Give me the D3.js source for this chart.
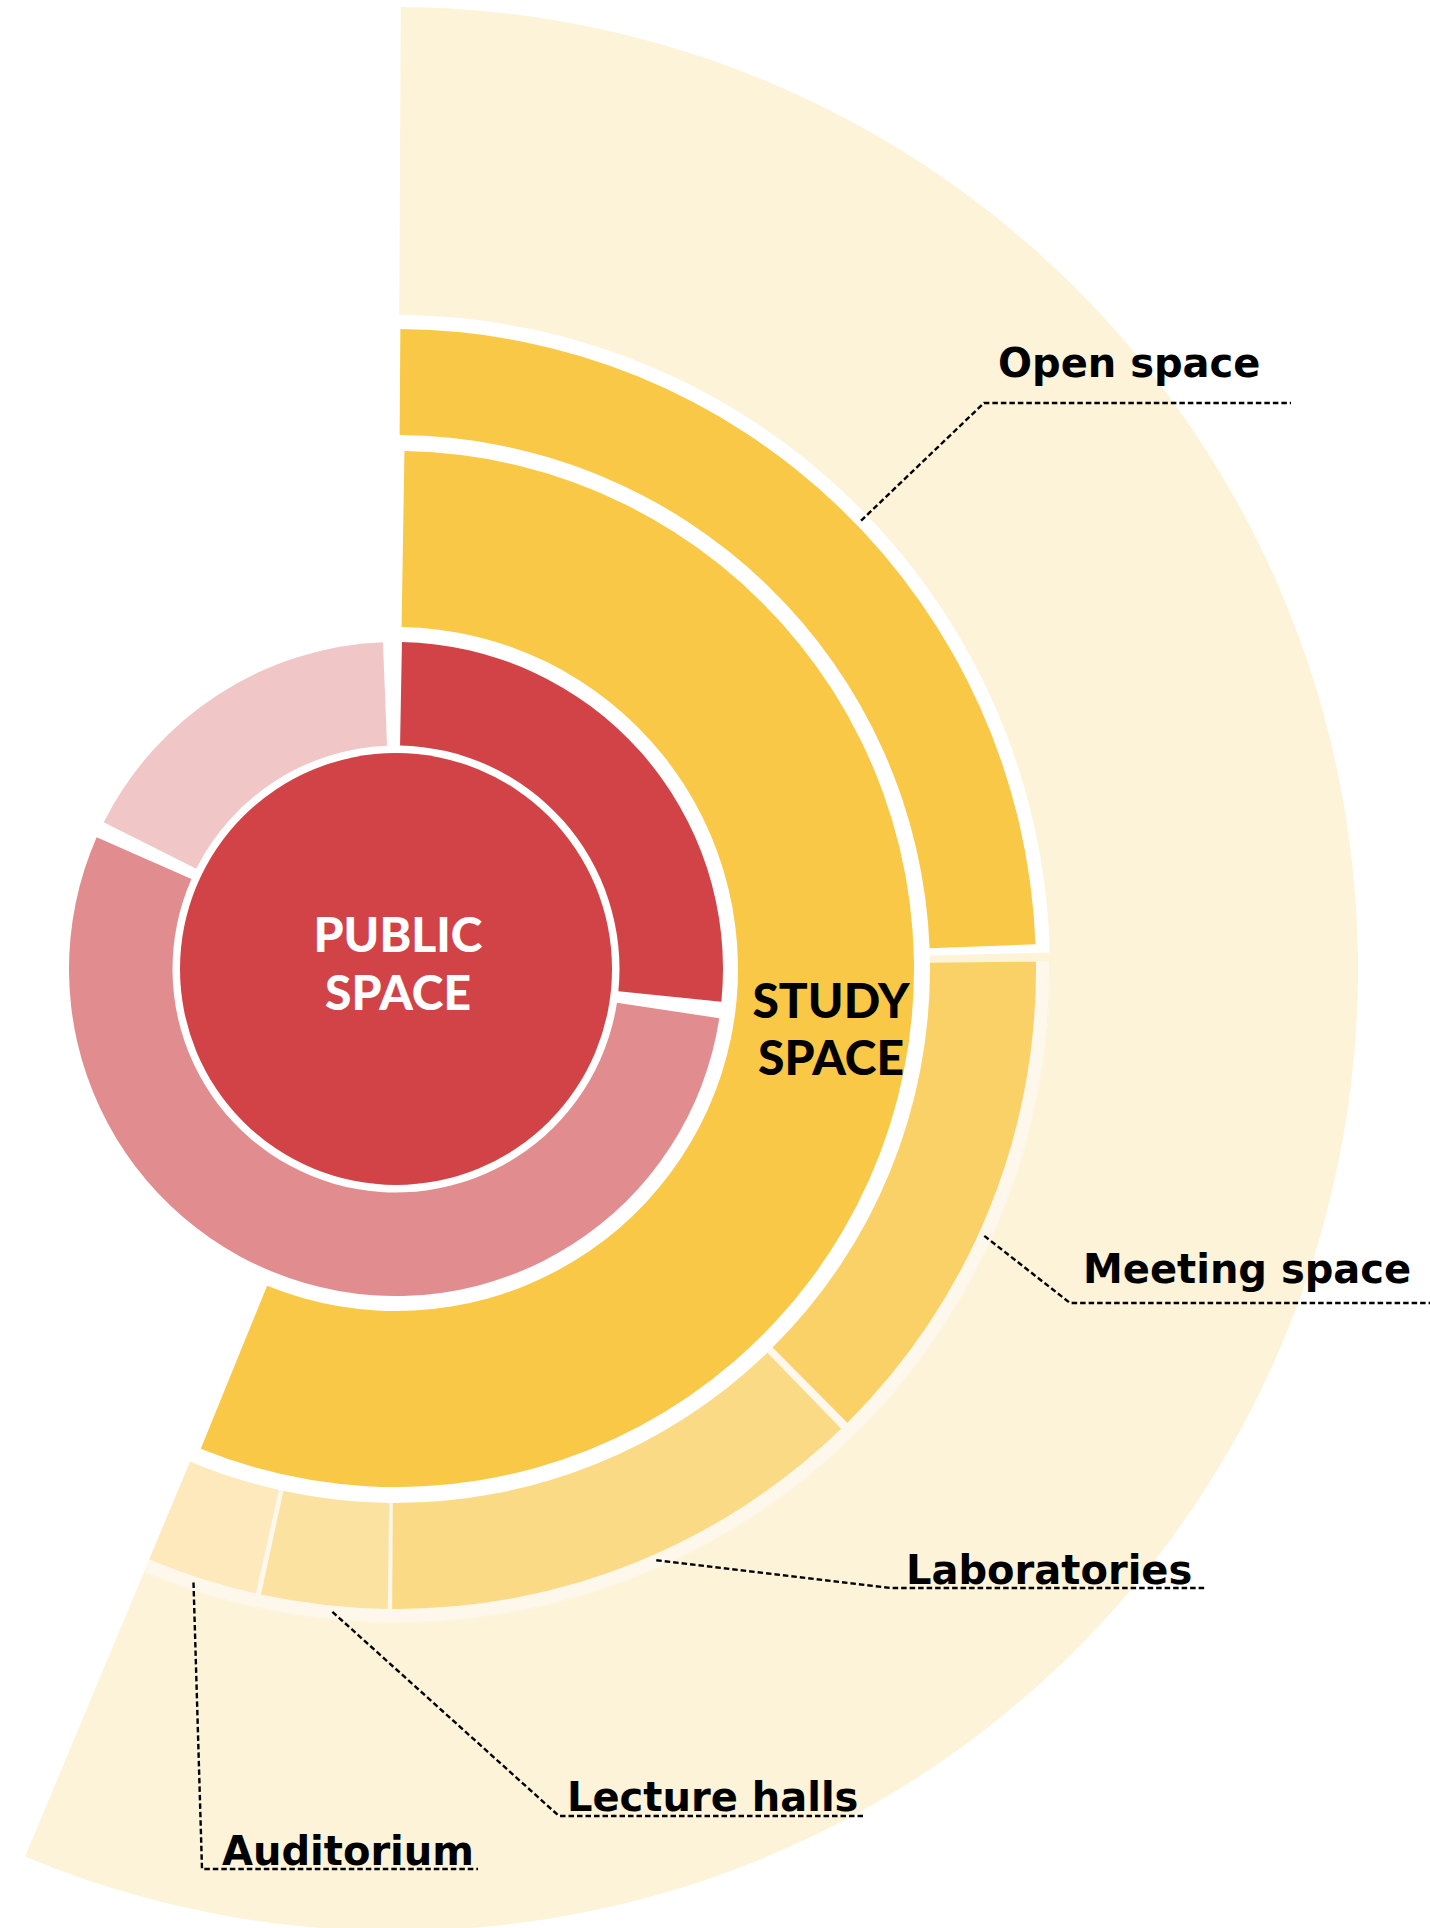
<!DOCTYPE html>
<html>
<head>
<meta charset="utf-8">
<script src="https://cdn.jsdelivr.net/npm/d3@7"></script>
<style>
  body { margin: 0; background: #fff; }
  svg { display: block; }
  .label { font-family: "DejaVu Sans", sans-serif; font-weight: bold; font-size: 40px; fill: #000; }
  .core { font-family: Lato, sans-serif; font-weight: 900; font-size: 48px; text-anchor: middle; }
  .leader { fill: none; stroke: #000; stroke-width: 2.4; stroke-dasharray: 5.5, 3; }
</style>
</head>
<body>
<div id="chart"></div>
<script>
// public space ring, share of the ring (%)
const publicParts = ["Public core", "Public circulation", "Public support"];
const publicShares = [27, 55, 18];
const publicColors = ["#d14347", "#e18c8e", "#f0c6c7"];

// study space, share of the whole floor area (%)
const studyShare = 56.15;
const studyParts = ["Open space", "Meeting space", "Laboratories", "Lecture halls", "Auditorium"];
const studyPartShares = [24.6, 13.05, 12.5, 3.3, 2.85];
const studyPartColors = ["#f9c846", "#fad166", "#fbda86", "#fce2a1", "#fde9bc"];

// layout
const width = 1430;
const height = 1928;
const cx = 396;
const cy = 969;
const R = {
  core: 216, pubIn: 223.5, pubOut: 327,
  studyIn: 342, studyOut: 518,
  partIn: 534, partOut: 640, bandOut: 653,
  creamIn: 654, creamOut: 962
};
const partGaps = [16, 8, 4, 5]; // px between consecutive study parts
// leader anchors (fraction along each part) and label placement
const leaders = [
  {t: 0.52, elbow: [984, 403], end: 1291, text: [998, 377]},
  {t: 0.55, elbow: [1070, 1303], end: 1430, text: [1083, 1283]},
  {t: 0.46, elbow: [891, 1588], end: 1205, text: [906, 1584]},
  {t: 0.43, elbow: [559, 1816], end: 863, text: [567, 1811]},
  {t: 0.57, elbow: [202, 1869], end: 478, text: [222, 1865]}
];

const angle = d3.scaleLinear().domain([0, 100]).range([0, 2 * Math.PI]);

const svg = d3.select("#chart")
    .append("svg")
    .attr("width", width)
    .attr("height", height);

const g = svg.append("g")
    .attr("transform", "translate(" + cx + "," + cy + ")");

// arc with padding given in px at mid radius
function sector(a0, a1, r0, r1, pad0, pad1) {
  const rm = (r0 + r1) / 2;
  return d3.arc()({
    innerRadius: r0,
    outerRadius: r1,
    startAngle: a0 + pad0 / rm,
    endAngle: a1 - pad1 / rm
  });
}

function polar(a, r) {
  return [cx + r * Math.sin(a), cy - r * Math.cos(a)];
}

const partsTotal = d3.sum(studyPartShares);
const partEnds = d3.cumsum(studyPartShares);
const partStarts = [0].concat(Array.from(partEnds).slice(0, -1));

// outer cream band
g.append("path")
    .attr("d", sector(0, angle(partsTotal), R.creamIn, R.creamOut, 4, 0))
    .attr("fill", "#fdf3d9");
// cream behind the lighter parts, whitish edge band on top of it
g.append("path")
    .attr("d", sector(angle(partEnds[0]), angle(partsTotal), R.partIn, R.creamIn, 0, 0))
    .attr("fill", "#fdf3d9");
g.append("path")
    .attr("d", sector(angle(partEnds[0]), angle(partsTotal), R.partIn, R.bandOut, partGaps[0] / 2, 0))
    .attr("fill", "#fef8ec");

// study parts
g.selectAll(".part")
    .data(studyParts)
    .enter()
    .append("path")
    .attr("class", "part")
    .attr("d", function(d, i) {
      const p0 = i === 0 ? 4 : partGaps[i - 1] / 2;
      const p1 = i === studyParts.length - 1 ? 0 : partGaps[i] / 2;
      return sector(angle(partStarts[i]), angle(partEnds[i]), R.partIn, R.partOut, p0, p1);
    })
    .attr("fill", function(d, i) {
      return studyPartColors[i];
    });

// study space ring
g.append("path")
    .attr("d", sector(0, angle(studyShare), R.studyIn, R.studyOut, 7, 0))
    .attr("fill", "#f9c846");

// public ring
const pubEnds = d3.cumsum(publicShares);
g.selectAll(".pub")
    .data(publicParts)
    .enter()
    .append("path")
    .attr("class", "pub")
    .attr("d", function(d, i) {
      const a0 = i === 0 ? 0 : pubEnds[i - 1];
      const p0 = i === 0 ? 5 : 7;
      const p1 = i === publicParts.length - 1 ? 11 : 7;
      return sector(angle(a0), angle(pubEnds[i]), R.pubIn, R.pubOut, p0, p1);
    })
    .attr("fill", function(d, i) {
      return publicColors[i];
    });

// public core
g.append("circle")
    .attr("r", R.core)
    .attr("fill", publicColors[0]);

// centre labels
const pubText = svg.append("text").attr("class", "core").attr("fill", "#fff");
pubText.append("tspan").attr("x", cx + 2).attr("y", 952).text("PUBLIC");
pubText.append("tspan").attr("x", cx + 2).attr("y", 1010).text("SPACE");

const studyText = svg.append("text").attr("class", "core").attr("fill", "#000");
studyText.append("tspan").attr("x", 831).attr("y", 1018).text("STUDY");
studyText.append("tspan").attr("x", 831).attr("y", 1075).text("SPACE");

// leader lines and labels
leaders.forEach(function(l, i) {
  const a = angle(partStarts[i] + l.t * studyPartShares[i]);
  const s = polar(a, 646);
  svg.append("path")
      .attr("class", "leader")
      .attr("d", "M" + s[0] + "," + s[1] +
                 "L" + l.elbow[0] + "," + l.elbow[1] +
                 "L" + l.end + "," + l.elbow[1]);
  svg.append("text")
      .attr("class", "label")
      .attr("x", l.text[0])
      .attr("y", l.text[1])
      .text(studyParts[i]);
});
</script>
</body>
</html>
